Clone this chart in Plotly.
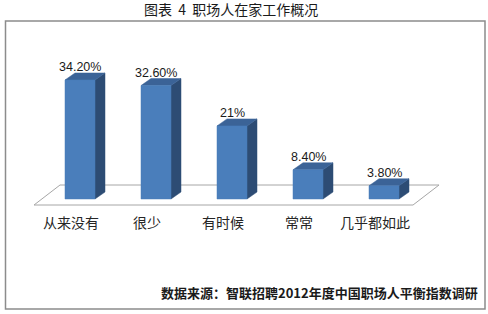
import plotly.graph_objects as go

categories = ["从来没有", "很少", "有时候", "常常", "几乎都如此"]
values = [34.2, 32.6, 21.0, 8.4, 3.8]
value_labels = ["34.20%", "32.60%", "21%", "8.40%", "3.80%"]
title_text = "图表&nbsp;&nbsp;4&nbsp;&nbsp;职场人在家工作概况"
source_text = "数据来源：智联招聘2012年度中国职场人平衡指数调研"

W, H = 488, 314
# pixel scales (styling): 76 px per category, 3.48 px per percent
PX_X, PX_Y = 76.0, 3.48
X0_PX, Y0_PX = 80.0, 199.0
xr = [-X0_PX / PX_X, (W - X0_PX) / PX_X]
yr = [-(H - Y0_PX) / PX_Y, Y0_PX / PX_Y]

half_w = 15 / PX_X
dx = 10 / PX_X
dy = 7 / PX_Y

FRONT = "#4A7EBB"
TOP = "#3B6397"
SIDE = "#2D4C74"

fig = go.Figure()

# floor (parallelogram)
n = len(categories)
f_left = -0.5 - 0.105
f_right = n - 0.5 - 0.118
f_front = -6 / PX_Y
bdx, bdy = 26 / PX_X, 20 / PX_Y
fig.add_trace(go.Scatter(
    x=[f_left, f_right, f_right + bdx, f_left + bdx, f_left],
    y=[f_front, f_front, f_front + bdy, f_front + bdy, f_front],
    mode="lines", fill="toself", fillcolor="white",
    line=dict(color="#A6A6A6", width=1), hoverinfo="skip", showlegend=False))

for i, v in enumerate(values):
    xl, xrr = i - half_w, i + half_w
    # side
    fig.add_trace(go.Scatter(
        x=[xrr, xrr + dx, xrr + dx, xrr, xrr],
        y=[0, dy, v + dy, v, 0],
        mode="lines", fill="toself", fillcolor=SIDE,
        line=dict(color=SIDE, width=0.5), hoverinfo="skip", showlegend=False))
    # top
    fig.add_trace(go.Scatter(
        x=[xl, xrr, xrr + dx, xl + dx, xl],
        y=[v, v, v + dy, v + dy, v],
        mode="lines", fill="toself", fillcolor=TOP,
        line=dict(color=TOP, width=0.5), hoverinfo="skip", showlegend=False))
    # front
    fig.add_trace(go.Scatter(
        x=[xl, xrr, xrr, xl, xl],
        y=[0, 0, v, v, 0],
        mode="lines", fill="toself", fillcolor=FRONT,
        line=dict(color=FRONT, width=0.5), hoverinfo="skip", showlegend=False))
    fig.add_annotation(x=i, y=v + 13 / PX_Y, xref="x", yref="y",
                       text=value_labels[i], showarrow=False,
                       xanchor="center", yanchor="middle",
                       font=dict(family="Liberation Sans", size=12.5, color="#1a1a1a"))
    fig.add_annotation(x=i - 9 / PX_X, y=-23 / PX_Y, xref="x", yref="y",
                       text=categories[i], showarrow=False,
                       xanchor="center", yanchor="middle",
                       font=dict(family="Noto Sans CJK SC", size=14, color="#262626"))

# outer box
fig.add_shape(type="rect", xref="paper", yref="paper",
              x0=5.5 / W, x1=485 / W, y0=1 - 309 / H, y1=1 - 21 / H,
              line=dict(color="#8C8C8C", width=1.5), layer="below")

fig.add_annotation(x=231 / W, y=1 - 9 / H, xref="paper", yref="paper",
                   text=title_text, showarrow=False, xanchor="center", yanchor="middle",
                   font=dict(family="Noto Sans CJK SC", size=14, color="#1a1a1a"))
fig.add_annotation(x=480 / W, y=1 - 292 / H, xref="paper", yref="paper",
                   text="<b>" + source_text + "</b>", showarrow=False,
                   xanchor="right", yanchor="middle",
                   font=dict(family="Noto Sans CJK SC", size=13, color="#1a1a1a"))

fig.update_layout(
    width=W, height=H, margin=dict(l=0, r=0, t=0, b=0),
    paper_bgcolor="white", plot_bgcolor="white",
    xaxis=dict(range=xr, visible=False, fixedrange=True),
    yaxis=dict(range=yr, visible=False, fixedrange=True),
    showlegend=False,
)

fig.write_html("out.html")
